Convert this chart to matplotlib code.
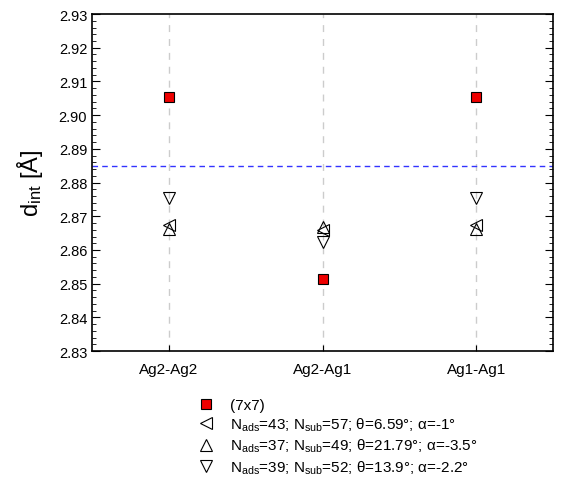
from matplotlib import pyplot as plt
from matplotlib.ticker import MultipleLocator

plt.rcParams['font.family'] = ['Liberation Sans', 'DejaVu Sans']
plt.rcParams['mathtext.fontset'] = 'custom'
plt.rcParams['mathtext.rm'] = 'Liberation Sans'
plt.rcParams['mathtext.it'] = 'Liberation Sans:italic'

# data
bonds = ['Ag2-Ag2', 'Ag2-Ag1', 'Ag1-Ag1']
d_7x7 = [2.9053, 2.8513, 2.9053]
d_left = [2.8673, 2.8658, 2.8673]
d_up = [2.8662, 2.8667, 2.8662]
d_down = [2.8753, 2.8624, 2.8753]
d_bulk = 2.885

labels = ['(7x7)',
          r'N$_{\mathrm{ads}}$=43; N$_{\mathrm{sub}}$=57; θ=6.59°; α=-1°',
          r'N$_{\mathrm{ads}}$=37; N$_{\mathrm{sub}}$=49; θ=21.79°; α=-3.5°',
          r'N$_{\mathrm{ads}}$=39; N$_{\mathrm{sub}}$=52; θ=13.9°; α=-2.2°']

fig = plt.figure(figsize=(5.61, 4.85), dpi=100)
ax = fig.add_axes([0.164, 0.274, 0.822, 0.695])

x = [1, 2, 3]
for xi in x:
    ax.axvline(xi, color='#cccccc', lw=1, ls=(0, (5, 5)), zorder=0)
ax.axhline(d_bulk, color='#3333ff', lw=1, ls=(0, (4, 3)), zorder=1)

h1, = ax.plot(x, d_7x7, 's', ms=7, mfc='#ee0000', mec='black', mew=0.8, ls='none')
h2, = ax.plot(x, d_left, '<', ms=8, mfc='none', mec='black', mew=0.8, ls='none')
h3, = ax.plot(x, d_up, '^', ms=8, mfc='none', mec='black', mew=0.8, ls='none')
h4, = ax.plot(x, d_down, 'v', ms=8, mfc='none', mec='black', mew=0.8, ls='none')

ax.set_xlim(0.5, 3.5)
ax.set_ylim(2.83, 2.93)
ax.set_xticks(x)
ax.set_xticklabels(bonds, fontsize=11)
ax.yaxis.set_major_locator(MultipleLocator(0.01))
ax.yaxis.set_minor_locator(MultipleLocator(0.002))
ax.yaxis.set_major_formatter(plt.FormatStrFormatter('%.2f'))
ax.tick_params(axis='y', which='both', direction='in', left=True, right=True, labelsize=10.5)
ax.tick_params(axis='y', which='major', length=6)
ax.tick_params(axis='y', which='minor', length=3)
ax.tick_params(axis='x', direction='in', length=4, top=False, pad=8)
for s in ax.spines.values():
    s.set_linewidth(1.2)

ax.set_ylabel(r'd$_{\mathrm{int}}$ [Å]', fontsize=17, labelpad=10)

fig.legend([h1, h2, h3, h4], labels, loc='upper left', bbox_to_anchor=(0.34, 0.19),
           frameon=False, fontsize=11, handletextpad=1.0, labelspacing=0.25,
           handlelength=1.2, borderaxespad=0)

plt.savefig('out.png', dpi=100)
